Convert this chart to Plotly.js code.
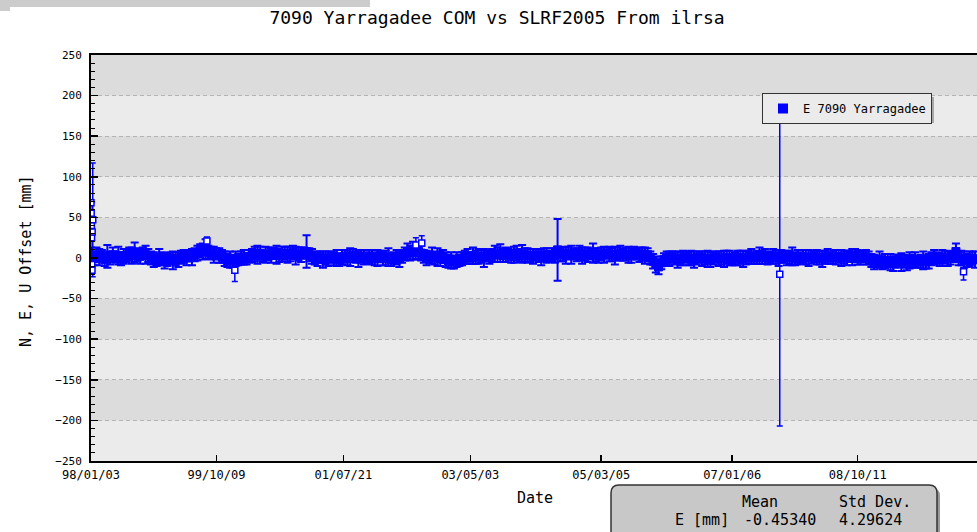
<!DOCTYPE html>
<html><head><meta charset="utf-8">
<script src="https://cdn.plot.ly/plotly-3.0.1.min.js"></script>
<style>html,body{margin:0;padding:0;background:#fff;overflow:hidden}#chart{width:977px;height:532px}</style>
</head><body><div id="chart"></div>
<script>
// ---- data ----
const seriesName = 'E 7090 Yarragadee';
const startDate = '1998-01-03';
const stepDays = 14;
const eValues = [
 2,-1,4,1,3,-2,2,0,4,1,3,-1,2,3,
 5,3,7,4,2,6,4,3,
 0,-2,-3,1,-1,-4,-2,0,-3,-1,-2,1,
 2,0,3,1,4,
 6,9,8,11,7,
 6,4,5,3,2,
 -1,-3,-2,-4,-1,-2,
 0,1,-1,2,
 3,5,4,6,2,4,5,3,6,4,3,5,
 6,4,5,7,3,5,4,6,8,4,2,
 0,-1,1,-2,0,-1,1,-1,0,-2,1,
 2,0,1,3,1,-1,2,1,0,2,
 1,-1,0,2,-1,0,1,-2,0,1,-1,2,
 5,8,6,9,7,8,6,
 2,0,1,3,0,1,-1,2,
 -2,-4,-3,-5,-2,-3,-1,
 1,2,0,3,1,2,2,0,3,1,
 3,5,4,6,3,4,5,2,4,6,3,5,4,3,
 3,2,4,3,1,4,3,2,4,3,
 10,
 4,5,3,6,4,5,4,6,3,5,4,5,6,4,3,5,4,6,5,4,3,5,6,4,5,4,3,6,5,4,5,3,4,
 0,-4,-8,-11,-6,-2,
 0,-1,1,0,-2,-1,0,1,-1,0,-2,0,1,-1,0,-1,-2,0,1,-1,0,-1,1,0,-2,-1,0,1,-1,0,
 1,2,0,1,3,1,2,0,1,2,1,0,2,1,0,1,2,-1,1,0,2,1,0,1,2,1,0,-1,1,2,0,1,1,2,0,
 1,0,2,1,3,1,0,2,1,0,
 -3,-5,-4,-2,-6,-4,-3,-5,-7,-4,-3,-5,-4,-6,-3,-4,-2,-5,-4,-3,-5,-4,
 -1,1,0,-2,0,1,-1,0,2,8,-1,0,-2,-3,-1,0,-2
];
const eErrors = [
 11,8,9,10,7,8,14,8,9,7,11,8,9,8,
 8,10,12,8,9,7,11,8,
 8,9,7,10,8,9,8,7,11,8,9,8,
 8,9,7,10,8,
 9,8,10,12,8,
 8,10,7,9,8,
 9,8,10,8,9,7,
 8,9,7,8,
 8,9,11,8,7,10,8,9,7,11,8,9,
 8,10,9,8,11,8,9,7,20,8,9,
 8,9,7,10,8,9,7,8,10,8,9,
 8,9,11,8,7,10,8,9,7,8,
 9,8,10,7,8,9,11,8,7,9,10,8,
 8,10,9,11,8,10,9,
 8,9,7,10,8,11,9,8,
 9,8,10,8,9,7,8,
 8,9,7,10,8,9,8,11,7,8,
 8,10,9,11,8,9,7,8,10,9,8,11,8,9,
 8,9,7,8,10,8,9,7,8,9,
 38,
 8,9,10,8,11,7,8,9,10,8,9,7,12,8,9,8,10,7,9,8,11,8,9,7,8,10,9,8,7,9,8,10,8,
 8,9,10,9,8,8,
 8,9,7,8,10,8,9,7,8,9,10,8,7,9,8,10,9,8,7,9,8,10,8,9,7,8,9,8,10,8,
 8,9,7,8,10,8,9,8,7,9,8,10,8,7,9,8,11,8,9,7,8,9,10,8,7,9,8,10,8,9,7,8,9,8,10,
 8,9,7,10,8,9,8,7,9,8,
 8,9,7,10,8,9,8,10,9,8,7,11,8,9,10,8,9,7,8,11,8,9,
 8,9,7,8,10,8,9,8,7,10,8,9,10,8,9,8,10
];
// flagged solutions (open squares)
const flaggedDates  = ['1998-01-03','1998-01-04','1998-01-05','1998-01-06','1998-01-07','1998-01-08','1998-01-09','1998-01-12','1999-08-21','2000-01-11','2002-07-28','2002-08-27','2007-09-07','2010-04-07'];
const flaggedValues = [68,55,40,25,-8,-15,32,47,21,-15,16,18.5,-20,-17];
const flaggedErrors = [2,3,3,3,4,4,37,70,5,14,9,9,187,10];
const tickDates  = ['1998-01-03','1999-10-09','2001-07-21','2003-05-03','2005-03-05','2007-01-06','2008-10-11'];
const tickLabels = ['98/01/03','99/10/09','01/07/21','03/05/03','05/03/05','07/01/06','08/10/11'];
const statRowLabel = 'E [mm]';
const statMean = '-0.45340';
const statStd  = '4.29624';

// ---- layout helpers ----
const W=977, H=532, L=91, R=977, T=55, B=461;
const fx = px => (px - L) / (R - L);
const fy = py => (B - py) / (B - T);
const mono = 'DejaVu Sans Mono, Liberation Mono, monospace';
const blue = '#0000ff';

const t0 = Date.UTC(1998,0,3);
const eDates = eValues.map((_, i) => new Date(t0 + i*stepDays*86400000).toISOString().slice(0,10));

const traces = [
 {x:eDates, y:eValues, type:'scatter', mode:'markers', showlegend:false, hoverinfo:'x+y',
  marker:{symbol:'square', size:8, color:blue, line:{color:blue, width:1}},
  error_y:{type:'data', array:eErrors, visible:true, color:blue, thickness:2, width:4}},
 {x:flaggedDates, y:flaggedValues, type:'scatter', mode:'markers', showlegend:false,
  marker:{symbol:'square', size:6, color:'#ffffff', line:{color:blue, width:1.5}},
  error_y:{type:'data', array:flaggedErrors, visible:true, color:blue, thickness:1.5, width:3}},
 {x:[null], y:[null], type:'scatter', mode:'markers', name:seriesName, showlegend:true,
  marker:{symbol:'square', size:10, color:blue}}
];

const shapes = [];
// alternating background bands
for (let v = 250; v > -250; v -= 100) {
  shapes.push({type:'rect', xref:'paper', yref:'y', x0:0, x1:1, y0:v-50, y1:v, layer:'below', line:{width:0}, fillcolor:'#dcdcdc'});
}
// top-left grey strip
shapes.push({type:'rect', xref:'paper', yref:'paper', x0:fx(0), x1:fx(370), y0:fy(0), y1:fy(7), line:{width:0}, fillcolor:'#cccccc'});
shapes.push({type:'rect', xref:'paper', yref:'paper', x0:fx(0), x1:fx(10), y0:fy(7), y1:fy(11), line:{width:0}, fillcolor:'#cccccc'});
// legend shadow
shapes.push({type:'rect', xref:'paper', yref:'paper', x0:fx(766), x1:fx(934), y0:fy(97), y1:fy(123), line:{width:0}, fillcolor:'#a8a8a8', layer:'above'});
// stats box (rounded)
function roundRect(x0,y0,x1,y1,r){
  const X=fx, Y=fy;
  return `M ${X(x0+r)} ${Y(y0)} L ${X(x1-r)} ${Y(y0)} Q ${X(x1)} ${Y(y0)} ${X(x1)} ${Y(y0+r)} L ${X(x1)} ${Y(y1-r)} Q ${X(x1)} ${Y(y1)} ${X(x1-r)} ${Y(y1)} L ${X(x0+r)} ${Y(y1)} Q ${X(x0)} ${Y(y1)} ${X(x0)} ${Y(y1-r)} L ${X(x0)} ${Y(y0+r)} Q ${X(x0)} ${Y(y0)} ${X(x0+r)} ${Y(y0)} Z`;
}
shapes.push({type:'path', xref:'paper', yref:'paper', path:roundRect(614,488,940,560,8), line:{width:0}, fillcolor:'#9a9a9a'});
shapes.push({type:'path', xref:'paper', yref:'paper', path:roundRect(611,485,937,557,8), line:{color:'#333333', width:1.5}, fillcolor:'#c8c8c8'});

const ann = (text, px, py, xanchor, size, extra) => Object.assign({text, xref:'paper', yref:'paper', x:fx(px), y:fy(py), xanchor, yanchor:'middle', showarrow:false, font:{family:mono, size, color:'#000'}}, extra||{});
const annotations = [
  ann('N, E, U Offset [mm]', 26, 261, 'center', 15, {textangle:-90}),
  ann('Date', 535, 498, 'center', 15),
  ann('Mean', 740, 502, 'left', 15),
  ann('Std Dev.', 837, 502, 'left', 15),
  ann(statRowLabel, 673, 520, 'left', 15),
  ann(statMean, 742, 520, 'left', 15),
  ann(statStd, 837, 520, 'left', 15)
];

const layout = {
  width:W, height:H,
  margin:{l:L, r:W-R, t:T, b:H-B, pad:0},
  paper_bgcolor:'#ffffff', plot_bgcolor:'#ebebeb',
  title:{text:'7090 Yarragadee COM vs SLRF2005 From ilrsa', xref:'container', x:497/W, xanchor:'center', yref:'container', y:1-18/H, yanchor:'middle', font:{family:mono, size:18, color:'#000'}},
  xaxis:{type:'date', range:['1998-01-03','2010-06-15'], tickmode:'array', tickvals:tickDates, ticktext:tickLabels,
    ticks:'inside', ticklen:6, tickwidth:1.5, tickcolor:'#000', showline:true, linecolor:'#000', linewidth:2, mirror:true,
    showgrid:false, zeroline:false, tickfont:{family:mono, size:12, color:'#000'}, ticklabelstandoff:2},
  yaxis:{range:[-250,250], tick0:0, dtick:50, ticks:'inside', ticklen:7, tickwidth:1.5, tickcolor:'#000',
    showline:true, linecolor:'#000', linewidth:2, mirror:false, zeroline:false,
    showgrid:true, gridcolor:'#b4b4b4', gridwidth:1, griddash:'4px,3px',
    minor:{dtick:10, ticks:'inside', ticklen:4, tickcolor:'#000', tickwidth:1, showgrid:false},
    tickfont:{family:mono, size:11, color:'#000'}, ticklabelstandoff:5},
  showlegend:true,
  legend:{x:fx(762), xanchor:'left', y:fy(93), yanchor:'top', bgcolor:'#ebebeb', bordercolor:'#333333', borderwidth:1,
    font:{family:mono, size:12, color:'#000'}},
  shapes, annotations
};

Plotly.newPlot('chart', traces, layout, {staticPlot:true, displayModeBar:false});
</script></body></html>
